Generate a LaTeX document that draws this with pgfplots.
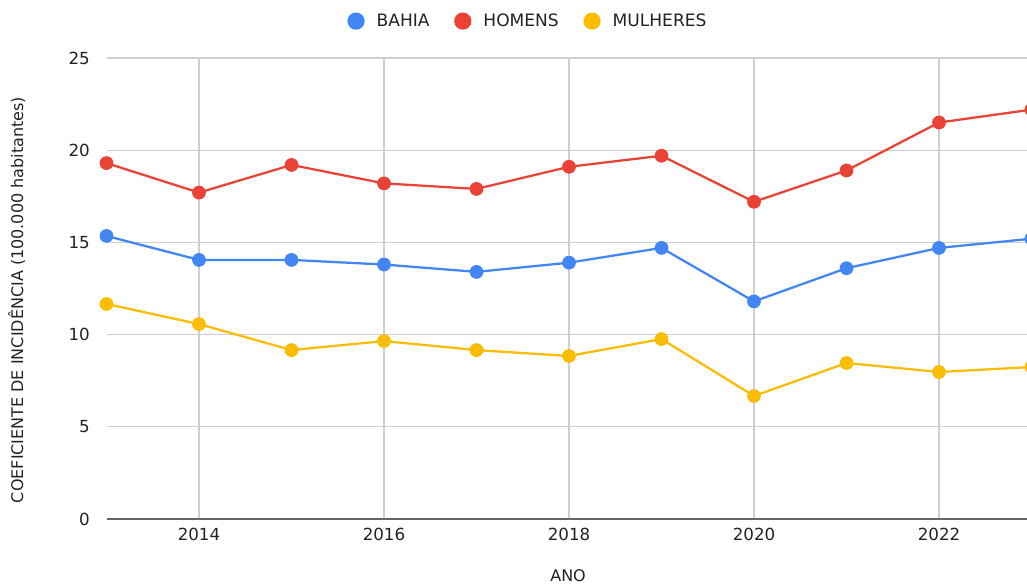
\documentclass[border=0pt]{standalone}
\usepackage{fontspec}
\setmainfont{DejaVu Sans}
\usepackage{pgfplots}
\pgfplotsset{compat=1.18}
\definecolor{cblue}{HTML}{4285F4}
\definecolor{cred}{HTML}{EA4335}
\definecolor{cyel}{HTML}{FBBC04}
\definecolor{gridc}{HTML}{CFCFCF}
\definecolor{txt}{HTML}{222222}
\begin{document}
\begin{tikzpicture}
\path[use as bounding box] (0pt,0pt) rectangle (770.25pt,438pt);
\begin{axis}[
  at={(79.875pt,48.75pt)}, anchor=south west,
  scale only axis,
  width=693.75pt, height=345.75pt,
  xmin=2013, xmax=2023, ymin=0, ymax=25,
  xtick={2014,2016,2018,2020,2022},
  ytick={0,5,10,15,20,25},
  xticklabel style={/pgf/number format/1000 sep={}, font=\fontsize{12.5}{15}\selectfont, text=txt, yshift=-3.5pt},
  yticklabel style={font=\fontsize{12.5}{15}\selectfont, text=txt, xshift=-9pt},
  /pgf/number format/assume math mode=true,
  major tick length=0pt,
  grid=major,
  major grid style={gridc, line width=1pt},
  axis x line*=bottom, axis y line*=left,
  x axis line style={draw=black!60, line width=1.2pt, -},
  y axis line style={draw=none},
  clip=false,
  xlabel={ANO},
  ylabel={COEFICIENTE DE INCIDÊNCIA (100.000 habitantes)},
  every axis x label/.style={at={(axis description cs:0.499,-0.1235)}, anchor=center, font=\fontsize{12}{14}\selectfont, text=txt},
  every axis y label/.style={at={(axis description cs:-0.097,0.475)}, rotate=90, anchor=center, font=\fontsize{12}{14}\selectfont, text=txt},
  legend columns=3,
  legend style={at={(axis description cs:0.456,1.08)}, anchor=center, draw=none, fill=none, font=\fontsize{12.8}{15}\selectfont, text=txt,
    /tikz/every odd column/.append style={column sep=7pt},
    /tikz/every even column/.append style={column sep=16.5pt}},
  legend image code/.code={\fill[#1] (0pt,0pt) circle (5.6pt);},
  every axis plot/.append style={line width=1.7pt, mark=*, mark size=4.3pt},
]
\addplot[cblue, mark options={fill=cblue, draw=cblue}] coordinates {
(2013,15.35) (2014,14.05) (2015,14.05) (2016,13.8) (2017,13.4) (2018,13.9) (2019,14.7) (2020,11.8) (2021,13.6) (2022,14.7) (2023,15.2)};
\addlegendentry{BAHIA}
\addplot[cred, mark options={fill=cred, draw=cred}] coordinates {
(2013,19.3) (2014,17.7) (2015,19.2) (2016,18.2) (2017,17.9) (2018,19.1) (2019,19.7) (2020,17.2) (2021,18.9) (2022,21.5) (2023,22.2)};
\addlegendentry{HOMENS}
\addplot[cyel, mark options={fill=cyel, draw=cyel}] coordinates {
(2013,11.66) (2014,10.57) (2015,9.16) (2016,9.65) (2017,9.16) (2018,8.84) (2019,9.76) (2020,6.67) (2021,8.46) (2022,7.97) (2023,8.24)};
\addlegendentry{MULHERES}
\end{axis}
\end{tikzpicture}
\end{document}
